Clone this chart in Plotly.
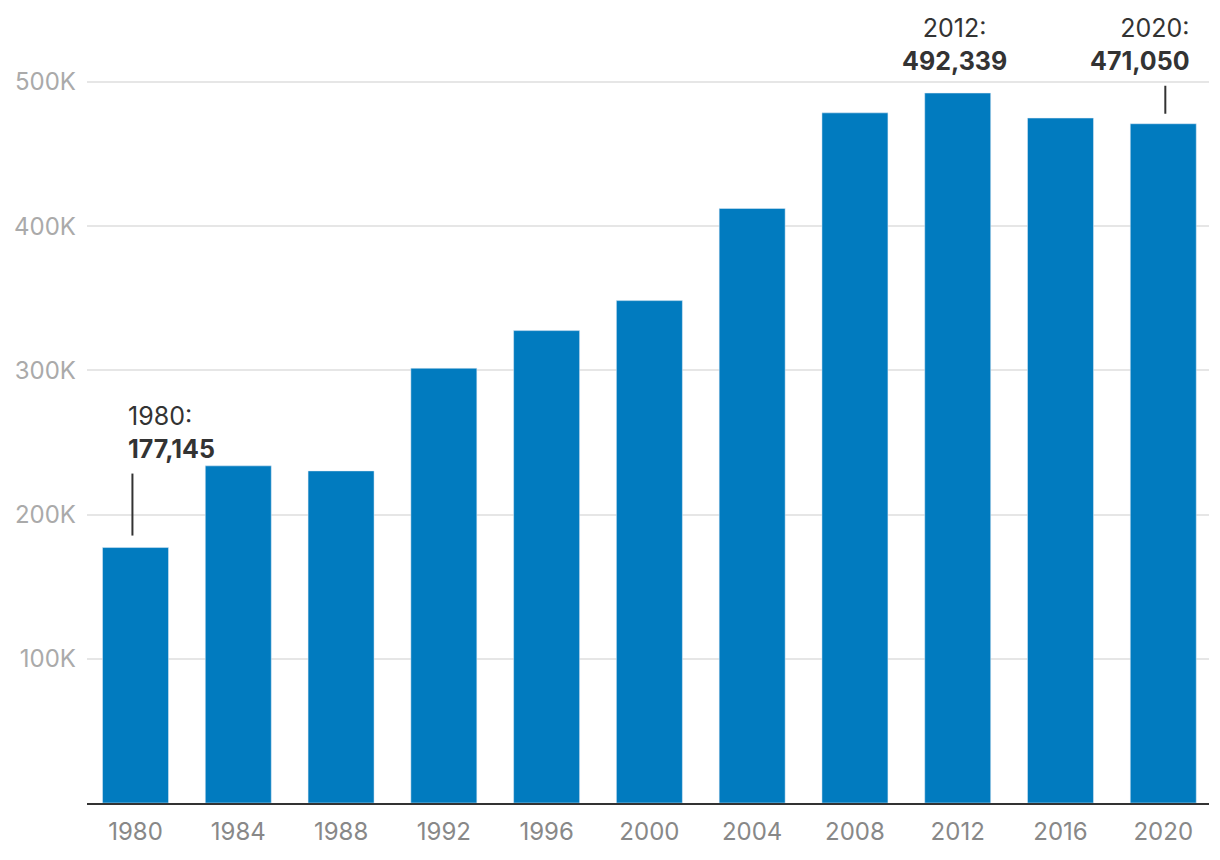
import plotly.graph_objects as go

years = ["1980", "1984", "1988", "1992", "1996", "2000", "2004", "2008", "2012", "2016", "2020"]
values = [177145, 233800, 230300, 301500, 327600, 348400, 412300, 478600, 492339, 475000, 471050]
y_ticks = [100000, 200000, 300000, 400000, 500000]
y_labels = ["100K", "200K", "300K", "400K", "500K"]

BAR = "#017bbf"
FONT = "Inter, Roboto, 'Liberation Sans', sans-serif"

fig = go.Figure(go.Bar(x=list(range(len(years))), y=values, marker_color=BAR,
                       width=0.642, hoverinfo="skip"))

# plot height 743 px for range
ymax = 743 / 144.2 * 100000
px = ymax / 743  # value per pixel

fig.update_layout(
    width=1220, height=860,
    margin=dict(l=79, r=19, t=52, b=65),
    paper_bgcolor="white", plot_bgcolor="white",
    showlegend=False,
    font=dict(family=FONT),
    xaxis=dict(range=[-0.472, 10.445], tickmode="array", tickvals=list(range(len(years))),
               ticktext=years, showgrid=False, zeroline=False, automargin=False,
               showline=True, linecolor="#333333", linewidth=2,
               tickfont=dict(size=24, color="#888888"), ticks="", ticklabelstandoff=6),
    yaxis=dict(range=[0, ymax], tickmode="array", tickvals=y_ticks, ticktext=y_labels,
               showgrid=True, gridcolor="#e6e6e6", gridwidth=2, zeroline=False,
               automargin=False,
               showline=False, ticks="", tickfont=dict(size=24, color="#aaaaaa"),
               ticklabelstandoff=10),
)

def label(i, xanchor, xshift, gap, line=None, lx=0):
    v = values[i]
    fig.add_annotation(x=i, y=v, xref="x", yref="y",
                       text=f"{years[i]}:<br><b>{v:,}</b>",
                       showarrow=False, xanchor=xanchor, yanchor="bottom",
                       align=xanchor if xanchor != "center" else "center",
                       xshift=xshift, yshift=gap,
                       font=dict(size=25, color="#333333", family=FONT))
    if line:
        fig.add_shape(type="line", xref="x", yref="y",
                      x0=i + lx, x1=i + lx, y0=v + line[0] * px, y1=v + line[1] * px,
                      line=dict(color="#333333", width=2))

label(0, "left", -10, 82, line=(12, 74), lx=-0.03)
label(8, "center", -3, 15)
label(10, "right", 29, 46, line=(10, 38), lx=0.02)

fig.write_html("out.html")
